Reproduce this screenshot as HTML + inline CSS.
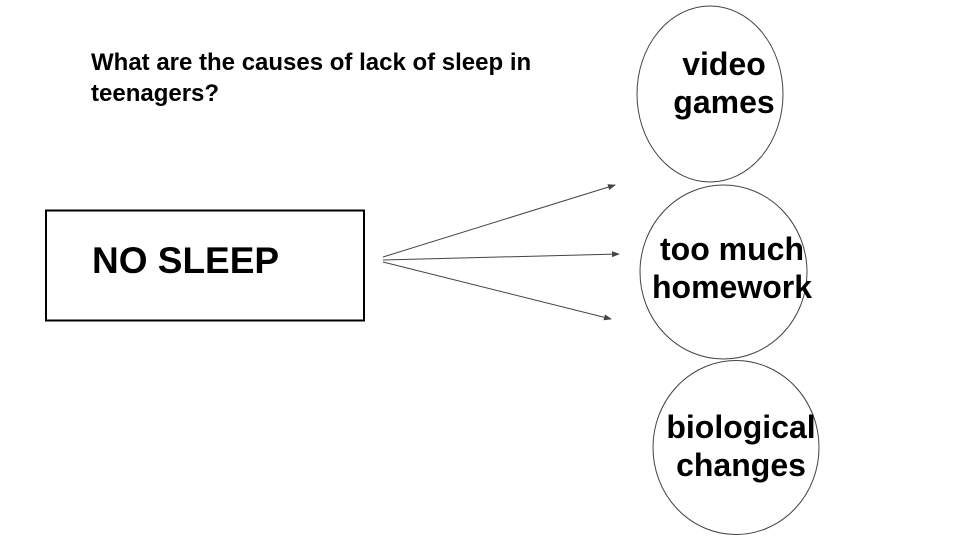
<!DOCTYPE html>
<html><head><meta charset="utf-8"><style>
html,body{margin:0;padding:0;background:#fff;}
svg{display:block;}
</style></head><body>
<svg width="960" height="540" viewBox="0 0 960 540" xmlns="http://www.w3.org/2000/svg" font-family="Liberation Sans, Arial, sans-serif">
<defs>
<marker id="a" markerWidth="8" markerHeight="6" refX="7" refY="3" orient="auto" markerUnits="userSpaceOnUse">
<path d="M0,0 L8,3 L0,6 z" fill="#444"/>
</marker>
</defs>
<rect width="960" height="540" fill="#fff"/>
<text x="91" y="70" font-size="24" font-weight="bold" fill="#000">What are the causes of lack of sleep in</text>
<text x="91" y="101" font-size="24" font-weight="bold" fill="#000">teenagers?</text>
<rect x="46" y="210.5" width="318" height="110" fill="none" stroke="#000" stroke-width="2"/>
<text x="92" y="273" font-size="37" font-weight="bold" fill="#000">NO SLEEP</text>
<g stroke="#444" stroke-width="1" fill="none">
<line x1="383" y1="257" x2="615" y2="185" marker-end="url(#a)"/>
<line x1="383" y1="260" x2="619" y2="254" marker-end="url(#a)"/>
<line x1="383" y1="262" x2="611" y2="319" marker-end="url(#a)"/>
</g>
<g fill="#fff" stroke="#444" stroke-width="1">
<ellipse cx="710" cy="94" rx="73" ry="88"/>
<ellipse cx="723.5" cy="272" rx="83.5" ry="87"/>
<ellipse cx="736" cy="447.5" rx="83" ry="87"/>
</g>
<g font-size="32" font-weight="bold" fill="#000" text-anchor="middle">
<text x="724" y="75">video</text>
<text x="724" y="113">games</text>
<text x="732" y="260">too much</text>
<text x="732" y="298">homework</text>
<text x="741" y="438">biological</text>
<text x="741" y="476">changes</text>
</g>
</svg>
</body></html>
